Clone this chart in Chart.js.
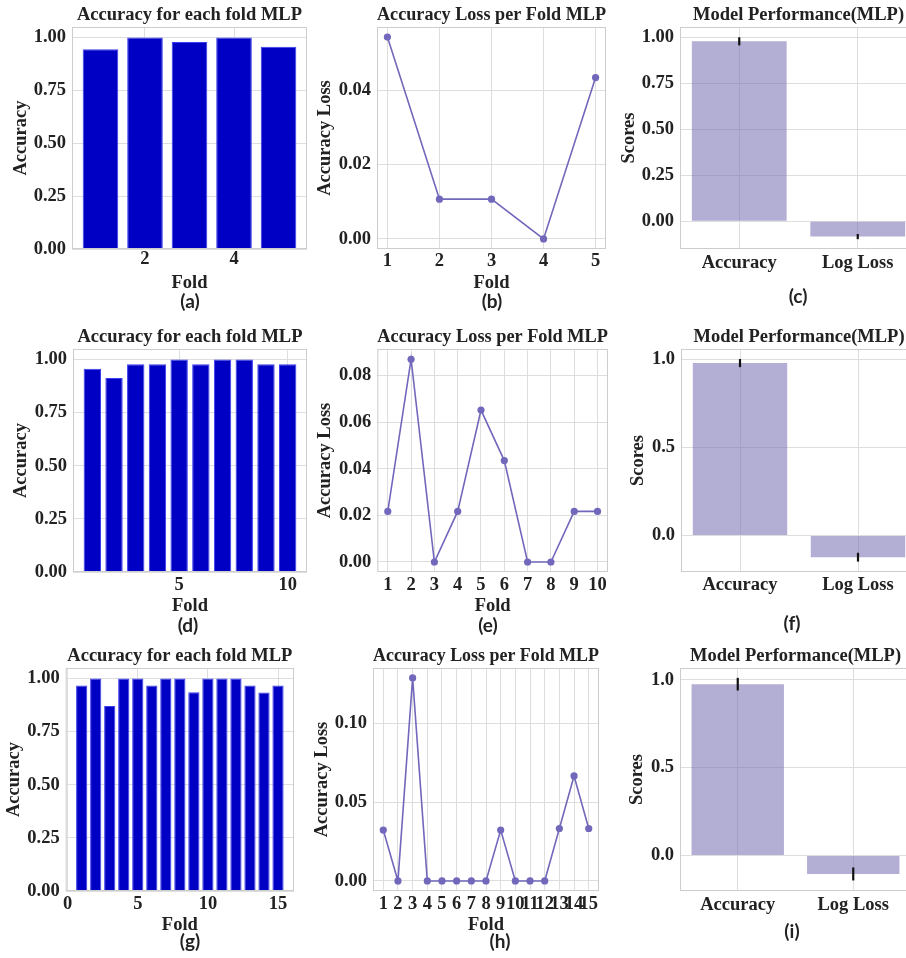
<!DOCTYPE html>
<html>
<head>
<meta charset="utf-8">
<script src="https://cdn.jsdelivr.net/npm/chart.js@4.4.1/dist/chart.umd.min.js"></script>
<style>
  html, body { margin: 0; padding: 0; width: 906px; height: 958px; overflow: hidden; background: #fff; }
  canvas { position: absolute; }
  .tag { position: absolute; font: bold 19px Lato, "Noto Sans", sans-serif; color: #222; transform: translate(-50%, -50%); }
</style>
</head>
<body>
<script>
// ---- data ----
const folds5 = [1, 2, 3, 4, 5];
const folds10 = [1, 2, 3, 4, 5, 6, 7, 8, 9, 10];
const folds15 = [1, 2, 3, 4, 5, 6, 7, 8, 9, 10, 11, 12, 13, 14, 15];

const acc5 = [0.945, 1.0, 0.979, 1.0, 0.956];
const acc10 = [0.957, 0.913, 0.978, 0.978, 1.0, 0.978, 1.0, 1.0, 0.978, 0.978];
const acc15 = [0.968, 1.0, 0.871, 1.0, 1.0, 0.968, 1.0, 1.0, 0.936, 1.0, 1.0, 1.0, 0.968, 0.935, 0.968];

const loss5 = [0.0543, 0.0107, 0.0107, 0.0, 0.0434];
const loss10 = [0.0217, 0.087, 0.0, 0.0217, 0.0652, 0.0435, 0.0, 0.0, 0.0217, 0.0217];
const loss15 = [0.0323, 0.0, 0.129, 0.0, 0.0, 0.0, 0.0, 0.0, 0.0323, 0.0, 0.0, 0.0, 0.0333, 0.0667, 0.0333];

const metrics = ["Accuracy", "Log Loss"];
const perf5 = [0.978, -0.083];
const perf5Err = [0.022, 0.014];
const perf10 = [0.977, -0.123];
const perf10Err = [0.023, 0.025];
const perf15 = [0.975, -0.105];
const perf15Err = [0.036, 0.037];

// tick labels
const accTicks = [0, 0.25, 0.5, 0.75, 1.0];
const scoreTicks5 = [0, 0.25, 0.5, 0.75, 1.0];
const scoreTicks = [0, 0.5, 1.0];
const loss5Ticks = [0, 0.02, 0.04];
const loss10Ticks = [0, 0.02, 0.04, 0.06, 0.08];
const loss15Ticks = [0, 0.05, 0.1];
const barFoldTicks5 = [2, 4];
const barFoldTicks10 = [5, 10];
const barFoldTicks15 = [0, 5, 10, 15];
const metricTicks = [0, 1];

// ---- styling ----
const FONT = { family: "'Liberation Serif', 'DejaVu Serif', serif", size: 18.5, weight: "bold", lineHeight: 1.2 };
const HALF = 11.1; // half of the font line height
const TEXT = "#222";
const GRID = "#dedede";
const BAR_BLUE = "#0000c4";
const LINE_PURPLE = "#7268bb";
const PERF_FILL = "rgba(117,107,177,0.55)";

Object.assign(Chart.defaults.font, FONT);
Chart.defaults.color = TEXT;

const framePlugin = {
  id: "frame",
  afterDatasetsDraw(chart) {
    const { ctx, chartArea: a } = chart;
    ctx.save();
    ctx.strokeStyle = "#cdcdcd";
    ctx.lineWidth = 1;
    ctx.strokeRect(a.left + 0.5, a.top + 0.5, a.right - a.left - 1, a.bottom - a.top - 1);
    ctx.restore();
  },
};

const errorBarPlugin = {
  id: "errbars",
  afterDatasetsDraw(chart, args, opts) {
    if (!opts.err) return;
    const { ctx } = chart;
    const xs = chart.scales.x, ys = chart.scales.y;
    const vals = chart.data.datasets[0].data;
    ctx.save();
    ctx.strokeStyle = "#111";
    ctx.lineWidth = 2.2;
    vals.forEach((p, i) => {
      const px = xs.getPixelForValue(p.x);
      ctx.beginPath();
      ctx.moveTo(px, ys.getPixelForValue(p.y - opts.err[i]));
      ctx.lineTo(px, ys.getPixelForValue(p.y + opts.err[i]));
      ctx.stroke();
    });
    ctx.restore();
  },
};

function points(xs, ys) {
  return xs.map((x, i) => ({ x: x, y: ys[i] }));
}

function fixTicks(list) {
  return (axis) => { axis.ticks = list.map((v) => ({ value: v })); };
}

// plot box geometry (L, T, R, B) and y-title centre for each panel
function makePanel(p) {
  const left = Math.round(p.ytx - HALF);
  const top = Math.round(p.T - 24);
  const width = Math.round(p.R - left);
  const height = Math.round(p.B + 45 - top);
  const yw = p.L - left;

  const canvas = document.createElement("canvas");
  canvas.width = width;
  canvas.height = height;
  canvas.style.left = left + "px";
  canvas.style.top = top + "px";
  document.body.appendChild(canvas);

  new Chart(canvas.getContext("2d"), {
    type: p.type,
    data: { datasets: [p.dataset] },
    options: {
      responsive: false,
      animation: false,
      devicePixelRatio: 1,
      layout: { padding: 0 },
      plugins: {
        legend: { display: false },
        tooltip: { enabled: false },
        title: {
          display: true,
          text: p.title,
          fullSize: false,
          color: TEXT,
          font: FONT,
          padding: { top: 0.9, bottom: 0.9 },
        },
        errbars: { err: p.err || null },
      },
      scales: {
        x: {
          type: "linear",
          offset: false,
          min: p.xmin,
          max: p.xmax,
          afterBuildTicks: fixTicks(p.xticks),
          afterFit: (s) => { s.height = 45; },
          grid: { color: GRID, drawTicks: false, offset: false },
          border: { display: false },
          ticks: {
            padding: p.xpad == null ? 2 : p.xpad,
            autoSkip: false,
            maxRotation: 0,
            callback: p.xlabel || ((v) => v),
          },
          title: { display: true, text: p.xtitle, padding: 0, font: FONT, color: TEXT },
        },
        y: {
          min: p.ymin,
          max: p.ymax,
          afterBuildTicks: fixTicks(p.yticks),
          afterFit: (s) => { s.width = yw; },
          grid: { color: GRID, drawTicks: false },
          border: { display: false },
          ticks: { padding: 6, callback: (v) => v.toFixed(p.ydec) },
          title: { display: true, text: p.ytitle, padding: 0, font: FONT, color: TEXT },
        },
      },
    },
    plugins: [framePlugin, errorBarPlugin],
  });
}

function accBars(xs, ys) {
  return {
    data: points(xs, ys),
    backgroundColor: BAR_BLUE,
    borderColor: "#3c3cf0",
    borderWidth: 1,
    categoryPercentage: 1,
    barPercentage: 0.8,
  };
}

function lossLine(xs, ys) {
  return {
    data: points(xs, ys),
    borderColor: LINE_PURPLE,
    backgroundColor: LINE_PURPLE,
    borderWidth: 1.6,
    pointRadius: 3.6,
    pointBorderWidth: 0,
    tension: 0,
  };
}

function perfBars(ys) {
  return {
    data: points(metricTicks, ys),
    backgroundColor: PERF_FILL,
    borderWidth: 0,
    categoryPercentage: 1,
    barPercentage: 0.8,
  };
}

const metricLabel = (v) => metrics[v];

const panels = [
  // row 1
  { type: "bar", L: 72, T: 27, R: 307, B: 249, ytx: 20.7, title: "Accuracy for each fold MLP",
    dataset: accBars(folds5, acc5), xmin: 0.36, xmax: 5.64, xticks: barFoldTicks5, xpad: -1,
    ymin: 0, ymax: 1.05, yticks: accTicks, ydec: 2, xtitle: "Fold", ytitle: "Accuracy" },
  { type: "line", L: 377, T: 27, R: 610, B: 249, ytx: 325, title: "Accuracy Loss per Fold MLP",
    dataset: lossLine(folds5, loss5), xmin: 0.8, xmax: 5.2, xticks: folds5, xpad: 1,
    ymin: -0.0027, ymax: 0.057, yticks: loss5Ticks, ydec: 2, xtitle: "Fold", ytitle: "Accuracy Loss" },
  { type: "bar", L: 680, T: 27, R: 917, B: 249, ytx: 629, title: "Model Performance(MLP)",
    dataset: perfBars(perf5), err: perf5Err, xmin: -0.5, xmax: 1.5, xticks: metricTicks, xlabel: metricLabel, xpad: 3,
    ymin: -0.1505, ymax: 1.056, yticks: scoreTicks5, ydec: 2, xtitle: "", ytitle: "Scores" },
  // row 2
  { type: "bar", L: 73, T: 349, R: 306.5, B: 571.7, ytx: 20.7, title: "Accuracy for each fold MLP",
    dataset: accBars(folds10, acc10), xmin: 0.11, xmax: 10.89, xticks: barFoldTicks10,
    ymin: 0, ymax: 1.05, yticks: accTicks, ydec: 2, xtitle: "Fold", ytitle: "Accuracy" },
  { type: "line", L: 377.3, T: 349.3, R: 611.7, B: 571.7, ytx: 325, title: "Accuracy Loss per Fold MLP",
    dataset: lossLine(folds10, loss10), xmin: 0.55, xmax: 10.45, xticks: folds10,
    ymin: -0.0043, ymax: 0.0914, yticks: loss10Ticks, ydec: 2, xtitle: "Fold", ytitle: "Accuracy Loss" },
  { type: "bar", L: 681, T: 349.3, R: 917, B: 571.7, ytx: 638.3, title: "Model Performance(MLP)",
    dataset: perfBars(perf10), err: perf10Err, xmin: -0.5, xmax: 1.5, xticks: metricTicks, xlabel: metricLabel,
    ymin: -0.207, ymax: 1.057, yticks: scoreTicks, ydec: 1, xtitle: "", ytitle: "Scores" },
  // row 3
  { type: "bar", L: 65.7, T: 668.3, R: 294.3, B: 890.7, ytx: 14, title: "Accuracy for each fold MLP",
    dataset: accBars(folds15, acc15), xmin: -0.14, xmax: 16.14, xticks: barFoldTicks15,
    ymin: 0, ymax: 1.05, yticks: accTicks, ydec: 2, xtitle: "Fold", ytitle: "Accuracy" },
  { type: "line", L: 373, T: 667.7, R: 602.7, B: 890.7, ytx: 321.7, title: "Accuracy Loss per Fold MLP",
    dataset: lossLine(folds15, loss15), xmin: 0.3, xmax: 15.7, xticks: folds15,
    ymin: -0.0064, ymax: 0.1353, yticks: loss15Ticks, ydec: 2, xtitle: "Fold", ytitle: "Accuracy Loss" },
  { type: "bar", L: 680, T: 668.3, R: 911, B: 890.7, ytx: 637.3, title: "Model Performance(MLP)",
    dataset: perfBars(perf15), err: perf15Err, xmin: -0.5, xmax: 1.5, xticks: metricTicks, xlabel: metricLabel, xpad: 3,
    ymin: -0.202, ymax: 1.067, yticks: scoreTicks, ydec: 1, xtitle: "", ytitle: "Scores" },
];

panels.forEach(makePanel);

// sub-figure tags
const tags = [
  ["(a)", 190, 300], ["(b)", 492, 300], ["(c)", 798, 295],
  ["(d)", 188, 624], ["(e)", 488, 624], ["(f)", 792, 622],
  ["(g)", 190, 940], ["(h)", 500, 940], ["(i)", 792, 930],
];
tags.forEach(([t, x, y]) => {
  const d = document.createElement("div");
  d.className = "tag";
  d.textContent = t;
  d.style.left = x + "px";
  d.style.top = y + "px";
  document.body.appendChild(d);
});
</script>
</body>
</html>
